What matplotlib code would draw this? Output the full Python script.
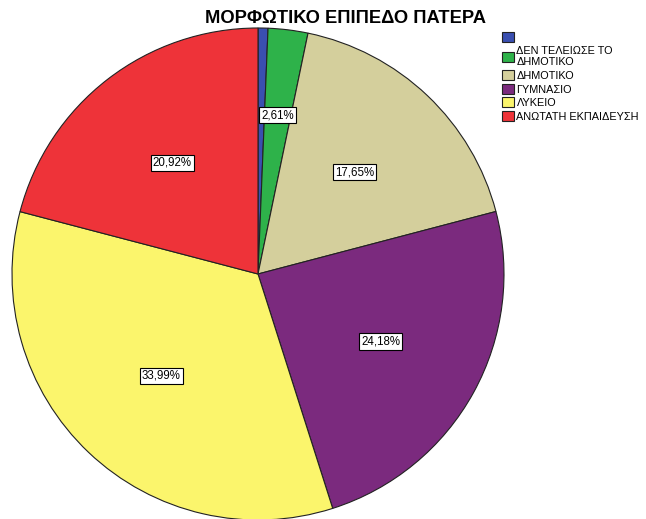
import numpy as np
import matplotlib
matplotlib.use("Agg")
from matplotlib import pyplot as plt

# data (father's education level)
labels = ["", "ΔΕΝ ΤΕΛΕΙΩΣΕ ΤΟ\nΔΗΜΟΤΙΚΟ", "ΔΗΜΟΤΙΚΟ", "ΓΥΜΝΑΣΙΟ", "ΛΥΚΕΙΟ", "ΑΝΩΤΑΤΗ ΕΚΠΑΙΔΕΥΣΗ"]
percents = [0.65, 2.61, 17.65, 24.18, 33.99, 20.92]
colors = ["#3a4fb0", "#2eb24a", "#d4cf9c", "#7b2a7e", "#fbf56c", "#ee3339"]

plt.rcParams['font.family'] = ['Liberation Sans', 'DejaVu Sans']

fig = plt.figure(figsize=(6.46, 5.19), dpi=100)
r = 246
cx, cy = 258, 519 - 274
ax = fig.add_axes([(cx - r) / 646, (cy - r) / 519, 2 * r / 646, 2 * r / 519])

def fmt(p):
    if p < 1:
        return ""
    return ("%.2f%%" % p).replace(".", ",")

wedges, texts, autotexts = ax.pie(percents, colors=colors, startangle=90, counterclock=False,
                                  autopct=fmt, pctdistance=0.57,
                                  wedgeprops=dict(edgecolor="#222222", linewidth=0.8))
ax.set_xlim(-1, 1)
ax.set_ylim(-1, 1)
ax.set_aspect("auto")

for i, t in enumerate(autotexts):
    t.set_fontsize(8.3)
    t.set_bbox(dict(facecolor="white", edgecolor="black", linewidth=0.8, pad=1.5))
    if percents[i] < 5 and percents[i] >= 1:
        x, y = t.get_position()
        t.set_position((x / 0.57 * 0.65, y / 0.57 * 0.65))

fig.text(0.535, 0.965, "ΜΟΡΦΩΤΙΚΟ ΕΠΙΠΕΔΟ ΠΑΤΕΡΑ", ha="center", va="center",
         fontsize=13.2, fontweight="bold")

fig.legend(wedges, labels, loc="upper left", bbox_to_anchor=(0.771, 0.946),
           frameon=False, fontsize=7.8, handlelength=1.05, handleheight=1.05,
           handletextpad=0.25, labelspacing=0.26, borderaxespad=0)

fig.savefig("out.png", dpi=100)
